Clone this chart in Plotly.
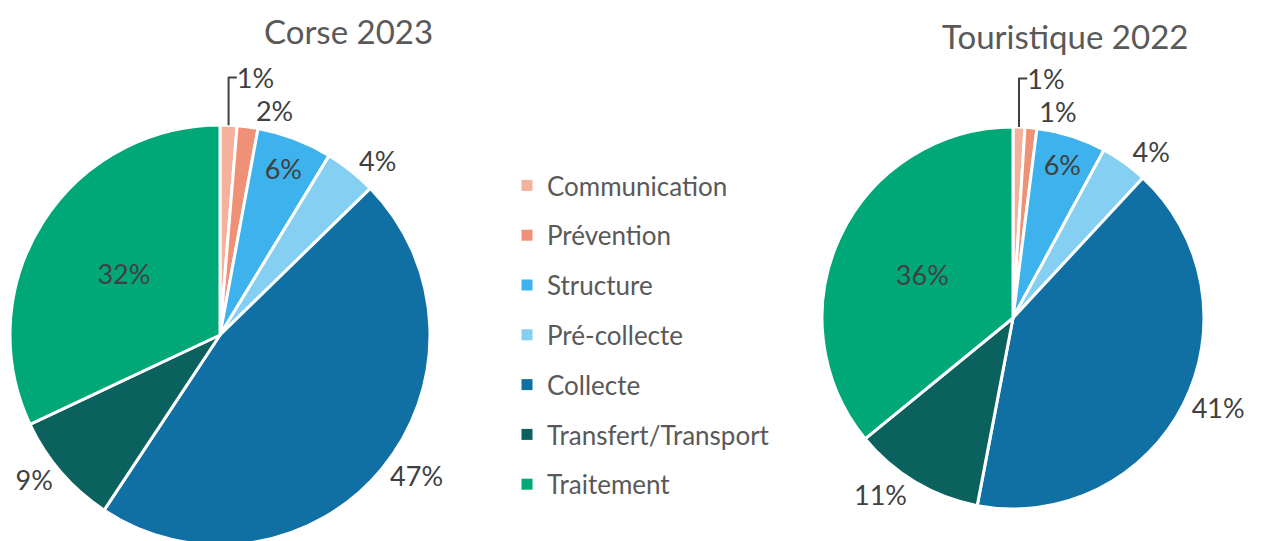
import plotly.graph_objects as go

categories = ["Communication", "Prévention", "Structure", "Pré-collecte",
              "Collecte", "Transfert/Transport", "Traitement"]
corse_2023 = [1.3, 1.6, 5.8, 4.0, 46.6, 8.7, 32.0]
touristique_2022 = [1.0, 1.0, 5.9, 4.0, 41.1, 11.1, 35.9]
colors = ["#F4B19B", "#EE9176", "#3DB2EC", "#85CFF3", "#1170A3", "#0B615E", "#00A878"]
pos_left = ["outside", "outside", "inside", "outside", "outside", "outside", "inside"]
pos_right = ["outside", "outside", "inside", "outside", "outside", "outside", "inside"]

W, H = 1261, 560  # figure slightly taller than the window: bottom of left pie is cut as in the original
FONT = "Lato"
TXT = "#404040"

fig = go.Figure()

def dom(cx, cy, r):
    return dict(x=[(cx - r) / W, (cx + r) / W], y=[max(0, (H - cy - r) / H), (H - cy + r) / H])

for vals, pos, d in [(corse_2023, pos_left, dom(220, 335, 210)),
                     (touristique_2022, pos_right, dom(1013, 318, 191))]:
    fig.add_trace(go.Pie(
        labels=categories, values=vals, sort=False, direction="clockwise", rotation=0,
        marker=dict(colors=colors, line=dict(color="white", width=3)),
        texttemplate="%{percent:.0%}", textposition=pos,
        textfont=dict(family=FONT, size=27, color=TXT),
        insidetextfont=dict(family=FONT, size=27, color=TXT),
        outsidetextfont=dict(family=FONT, size=27, color=TXT),
        showlegend=False, domain=d, hoverinfo="label+percent",
    ))

for i, (c, col) in enumerate(zip(categories, colors)):
    fig.add_trace(go.Scatter(
        x=[None], y=[None], mode="markers", name=c, legendgroup=c,
        marker=dict(symbol="square", size=11, color=col),
        showlegend=True,
    ))

fig.update_layout(
    width=W, height=H,
    margin=dict(l=0, r=0, t=0, b=0),
    paper_bgcolor="white", plot_bgcolor="white",
    xaxis=dict(visible=False), yaxis=dict(visible=False),
    legend=dict(x=507 / W, y=1 - 162 / H, xanchor="left", yanchor="top",
                font=dict(family=FONT, size=26, color="#595959"),
                tracegroupgap=13, itemwidth=30, bgcolor="rgba(0,0,0,0)"),
    annotations=[
        dict(text="Corse 2023", x=348 / W, y=1 - 31 / H, xref="paper", yref="paper",
             xanchor="center", yanchor="middle",
             showarrow=False, font=dict(family=FONT, size=33, color="#595959")),
        dict(text="Touristique 2022", x=1065 / W, y=1 - 36 / H, xref="paper", yref="paper",
             xanchor="center", yanchor="middle",
             showarrow=False, font=dict(family=FONT, size=33, color="#595959")),
    ],
)

fig.write_html("out.html", config={"displayModeBar": False},
               post_script="document.body.style.margin='0px';document.body.style.overflow='hidden';")
